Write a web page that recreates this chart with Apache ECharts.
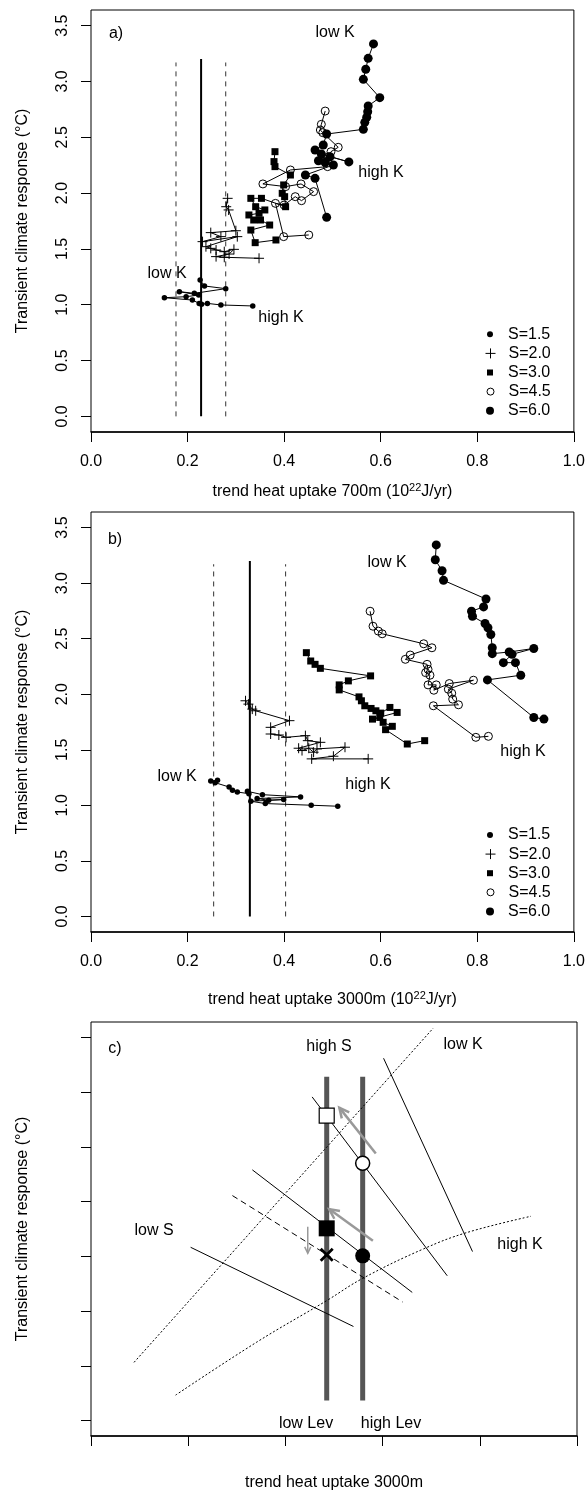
<!DOCTYPE html>
<html>
<head>
<meta charset="utf-8">
<script src="https://cdn.jsdelivr.net/npm/echarts@6/dist/echarts.min.js"></script>
<style>
  html, body { margin: 0; padding: 0; background: #fff; }
  #chart { width: 588px; height: 1492px; }
</style>
</head>
<body>
<div id="chart"></div>
<script>
// ticks
const xTicks = [0, 0.2, 0.4, 0.6, 0.8, 1.0];
const yTicks = [0, 0.5, 1.0, 1.5, 2.0, 2.5, 3.0, 3.5];
const groupNames = ['S=1.5', 'S=2.0', 'S=3.0', 'S=4.5', 'S=6.0'];

// panel a) trend heat uptake 700m vs TCR
const a15X = [0.226, 0.235, 0.279, 0.214, 0.183, 0.223, 0.197, 0.152, 0.210, 0.224, 0.229, 0.241, 0.269, 0.335];
const a15Y = [1.222, 1.168, 1.144, 1.102, 1.117, 1.087, 1.072, 1.063, 1.042, 1.012, 1.004, 1.012, 0.998, 0.989];
const a20X = [0.283, 0.280, 0.285, 0.300, 0.248, 0.269, 0.231, 0.303, 0.238, 0.248, 0.259, 0.276, 0.296, 0.286, 0.259, 0.276, 0.348];
const a20Y = [1.953, 1.878, 1.849, 1.663, 1.646, 1.610, 1.565, 1.610, 1.520, 1.505, 1.490, 1.475, 1.496, 1.454, 1.431, 1.425, 1.416];
const a30X = [0.381, 0.379, 0.381, 0.413, 0.399, 0.396, 0.401, 0.403, 0.353, 0.331, 0.341, 0.360, 0.348, 0.327, 0.337, 0.351, 0.370, 0.331, 0.340, 0.383];
const a30Y = [2.371, 2.282, 2.237, 2.162, 2.073, 1.998, 1.968, 1.878, 1.953, 1.953, 1.878, 1.849, 1.819, 1.804, 1.759, 1.759, 1.714, 1.669, 1.556, 1.580];
const a45X = [0.485, 0.477, 0.475, 0.480, 0.512, 0.497, 0.492, 0.485, 0.490, 0.413, 0.356, 0.403, 0.435, 0.461, 0.436, 0.423, 0.400, 0.382, 0.399, 0.451];
const a45Y = [2.735, 2.616, 2.565, 2.541, 2.410, 2.371, 2.326, 2.282, 2.237, 2.207, 2.082, 2.058, 2.082, 2.013, 1.932, 1.968, 1.893, 1.908, 1.610, 1.625];
const a60X = [0.585, 0.574, 0.569, 0.564, 0.598, 0.574, 0.573, 0.571, 0.567, 0.564, 0.488, 0.481, 0.464, 0.477, 0.534, 0.495, 0.471, 0.485, 0.502, 0.444, 0.464, 0.488];
const a60Y = [3.336, 3.207, 3.109, 3.019, 2.855, 2.780, 2.729, 2.679, 2.634, 2.571, 2.529, 2.431, 2.386, 2.350, 2.279, 2.326, 2.290, 2.273, 2.252, 2.162, 2.132, 1.783];
const aRefX = [0.176, 0.228, 0.279];

// panel b) trend heat uptake 3000m vs TCR
const b15X = [0.248, 0.262, 0.257, 0.286, 0.293, 0.303, 0.327, 0.324, 0.355, 0.434, 0.344, 0.368, 0.399, 0.331, 0.361, 0.456, 0.511];
const b15Y = [1.219, 1.225, 1.204, 1.165, 1.135, 1.120, 1.105, 1.126, 1.096, 1.076, 1.061, 1.046, 1.052, 1.037, 1.016, 1.001, 0.992];
const b20X = [0.320, 0.326, 0.334, 0.341, 0.411, 0.372, 0.372, 0.389, 0.404, 0.444, 0.449, 0.475, 0.430, 0.437, 0.451, 0.461, 0.468, 0.526, 0.502, 0.457, 0.574];
const b20Y = [1.941, 1.911, 1.866, 1.851, 1.762, 1.702, 1.642, 1.633, 1.612, 1.627, 1.582, 1.567, 1.514, 1.493, 1.514, 1.478, 1.508, 1.523, 1.442, 1.418, 1.418];
const b30X = [0.446, 0.455, 0.464, 0.475, 0.579, 0.533, 0.514, 0.514, 0.555, 0.560, 0.567, 0.580, 0.590, 0.600, 0.619, 0.634, 0.583, 0.598, 0.605, 0.624, 0.610, 0.655, 0.691];
const b30Y = [2.374, 2.299, 2.269, 2.233, 2.165, 2.120, 2.084, 2.039, 1.976, 1.941, 1.896, 1.872, 1.851, 1.830, 1.881, 1.836, 1.776, 1.791, 1.747, 1.711, 1.681, 1.552, 1.582];
const b45X = [0.578, 0.584, 0.595, 0.603, 0.689, 0.706, 0.661, 0.651, 0.696, 0.698, 0.693, 0.702, 0.698, 0.715, 0.710, 0.742, 0.792, 0.740, 0.747, 0.749, 0.761, 0.709, 0.797, 0.823];
const b45Y = [2.747, 2.612, 2.568, 2.544, 2.454, 2.418, 2.353, 2.314, 2.269, 2.224, 2.194, 2.171, 2.084, 2.084, 2.036, 2.096, 2.126, 2.045, 2.009, 1.956, 1.905, 1.896, 1.612, 1.621];
const b60X = [0.715, 0.713, 0.727, 0.730, 0.818, 0.813, 0.788, 0.790, 0.816, 0.822, 0.828, 0.831, 0.831, 0.866, 0.917, 0.872, 0.854, 0.879, 0.890, 0.821, 0.917, 0.938];
const b60Y = [3.344, 3.210, 3.111, 3.025, 2.857, 2.786, 2.747, 2.702, 2.636, 2.598, 2.538, 2.418, 2.365, 2.380, 2.412, 2.359, 2.284, 2.284, 2.171, 2.129, 1.791, 1.776];
const bRefX = [0.254, 0.329, 0.403];
const refTop = [3.17, 3.2, 3.17];

// panel c) schematic
const cLevX = [0.485, 0.559];
const cLevY = [0.185, 3.14];
const cOpenSquare = [0.485, 2.786];
const cOpenCircle = [0.559, 2.350];
const cFilledSquare = [0.485, 1.756];
const cFilledCircle = [0.559, 1.505];
const cCross = [0.485, 1.514];
const cSolid = [[0.602, 3.309, 0.785, 1.544], [0.455, 2.956, 0.733, 1.323], [0.332, 2.290, 0.661, 1.171], [0.205, 1.583, 0.540, 0.860]];
const cDashed = [0.291, 2.055, 0.641, 1.084];
const cLowKX = [0.0885, 0.704];
const cLowKY = [0.532, 3.583];
const cHighKX = [0.174, 0.341, 0.485, 0.559, 0.684, 0.773, 0.905];
const cHighKY = [0.233, 0.717, 1.096, 1.299, 1.568, 1.717, 1.866];
const cArrows = [[0.586, 2.440, 0.511, 2.858], [0.580, 1.642, 0.490, 1.932], [0.446, 1.771, 0.446, 1.529]];

const FONT = '"Liberation Sans", Arial, Helvetica, sans-serif';
const FS = 16;
const plusPath = 'path://M0,5L10,5M5,0L5,10';
const crossPath = 'path://M0,0L10,10M10,0L0,10';

const groupStyle = {
  'S=1.5': { symbol: 'circle', symbolSize: 5.5, itemStyle: { color: '#000' } },
  'S=2.0': { symbol: plusPath, symbolSize: 10, itemStyle: { color: '#000', borderColor: '#000', borderWidth: 1 } },
  'S=3.0': { symbol: 'rect', symbolSize: 7, itemStyle: { color: '#000' } },
  'S=4.5': { symbol: 'circle', symbolSize: 8, itemStyle: { color: 'rgba(0,0,0,0)', borderColor: '#000', borderWidth: 1 } },
  'S=6.0': { symbol: 'circle', symbolSize: 9, itemStyle: { color: '#000' } }
};

const pair = (xs, ys) => xs.map((x, i) => [x, ys[i]]);

function groupSeries(name, xs, ys, ax) {
  return Object.assign({
    type: 'line', name: name, xAxisIndex: ax, yAxisIndex: ax,
    data: pair(xs, ys),
    lineStyle: { color: '#000', width: 1 },
    emphasis: { disabled: true }, z: 3
  }, groupStyle[name]);
}

function seg(x1, y1, x2, y2, ax, style, z) {
  return {
    type: 'line', xAxisIndex: ax, yAxisIndex: ax,
    data: [[x1, y1], [x2, y2]], symbol: 'none',
    lineStyle: style, emphasis: { disabled: true }, z: z || 2
  };
}

function refLines(xs, ax) {
  return xs.map((x, i) => seg(x, 0, x, refTop[i], ax,
    i === 1 ? { color: '#000', width: 2 } : { color: '#333', width: 1, type: [5, 5] }));
}

function marker(pt, symbol, size, itemStyle) {
  return {
    type: 'scatter', xAxisIndex: 2, yAxisIndex: 2, data: [pt],
    symbol: symbol, symbolSize: size, itemStyle: Object.assign({ opacity: 1 }, itemStyle), z: 5,
    emphasis: { disabled: true }
  };
}

const grids = [
  { left: 91, top: 10, width: 486, height: 422 },
  { left: 91, top: 512, width: 486, height: 420 },
  { left: 91, top: 1022, width: 486, height: 422 }
].map(g => Object.assign(g, { show: true, borderColor: '#000', borderWidth: 1 }));

const xNames = [
  '{n|trend heat uptake 700m (10}{s|22}{n|J/yr)}',
  '{n|trend heat uptake 3000m (10}{s|22}{n|J/yr)}',
  '{n|trend heat uptake 3000m}'
];
const xNameGaps = [50, 58, 37];

const xAxes = [0, 1, 2].map(i => ({
  gridIndex: i, type: 'value', min: 0, max: 1,
  axisLine: { show: true, onZero: false, lineStyle: { color: '#000', width: 1.5 } },
  axisTick: { show: true, length: 10, customValues: xTicks, lineStyle: { color: '#000' } },
  axisLabel: {
    show: i < 2, customValues: xTicks, margin: 22,
    formatter: v => v.toFixed(1), fontSize: FS, color: '#000', fontFamily: FONT
  },
  splitLine: { show: false },
  name: xNames[i], nameLocation: 'middle', nameGap: xNameGaps[i],
  nameTextStyle: {
    fontFamily: FONT, color: '#000',
    rich: {
      n: { fontSize: FS, fontFamily: FONT, color: '#000', lineHeight: 20 },
      s: { fontSize: 11, fontFamily: FONT, color: '#000', verticalAlign: 'top', lineHeight: 20 }
    }
  }
}));

const yAxes = [0, 1, 2].map(i => ({
  gridIndex: i, type: 'value', min: -0.14, max: 3.64,
  axisLine: { show: false, onZero: false },
  axisTick: { show: true, length: 10, customValues: yTicks, lineStyle: { color: '#000' } },
  axisLabel: {
    show: i < 2, customValues: yTicks, rotate: 90, margin: 20,
    formatter: v => v.toFixed(1), fontSize: FS, color: '#000', fontFamily: FONT
  },
  splitLine: { show: false },
  name: 'Transient climate response (°C)', nameLocation: 'middle', nameGap: 60,
  nameTextStyle: { fontSize: FS, fontFamily: FONT, color: '#000' }
}));

const series = [];
// panel a
series.push(...refLines(aRefX, 0));
series.push(groupSeries('S=1.5', a15X, a15Y, 0));
series.push(groupSeries('S=2.0', a20X, a20Y, 0));
series.push(groupSeries('S=3.0', a30X, a30Y, 0));
series.push(groupSeries('S=4.5', a45X, a45Y, 0));
series.push(groupSeries('S=6.0', a60X, a60Y, 0));
// panel b
series.push(...refLines(bRefX, 1));
series.push(groupSeries('S=1.5', b15X, b15Y, 1));
series.push(groupSeries('S=2.0', b20X, b20Y, 1));
series.push(groupSeries('S=3.0', b30X, b30Y, 1));
series.push(groupSeries('S=4.5', b45X, b45Y, 1));
series.push(groupSeries('S=6.0', b60X, b60Y, 1));
// panel c
cLevX.forEach(x => series.push(seg(x, cLevY[0], x, cLevY[1], 2, { color: '#555', width: 5 }, 1)));
cSolid.forEach(s => series.push(seg(s[0], s[1], s[2], s[3], 2, { color: '#000', width: 1 }, 2)));
series.push(seg(cDashed[0], cDashed[1], cDashed[2], cDashed[3], 2, { color: '#000', width: 1, type: [6, 4] }, 2));
series.push(seg(cLowKX[0], cLowKY[0], cLowKX[1], cLowKY[1], 2, { color: '#000', width: 1, type: [2, 2] }, 2));
series.push({
  type: 'line', xAxisIndex: 2, yAxisIndex: 2, data: pair(cHighKX, cHighKY),
  symbol: 'none', smooth: 0.4, lineStyle: { color: '#000', width: 1, type: [2, 2] },
  emphasis: { disabled: true }, z: 2
});
series.push({
  type: 'custom', xAxisIndex: 2, yAxisIndex: 2, data: cArrows, z: 6,
  encode: { x: [0, 2], y: [1, 3] },
  renderItem: (params, api) => {
    const p1 = api.coord([api.value(0), api.value(1)]);
    const p2 = api.coord([api.value(2), api.value(3)]);
    const small = params.dataIndex === 2;
    const len = small ? 7 : 11;
    const w = small ? 1.5 : 2.5;
    const ang = Math.atan2(p2[1] - p1[1], p2[0] - p1[0]);
    const h1 = ang + Math.PI - 0.45, h2 = ang + Math.PI + 0.45;
    const st = { stroke: '#999', lineWidth: w, fill: null };
    return {
      type: 'group', children: [
        { type: 'polyline', shape: { points: [p1, p2] }, style: st },
        { type: 'polyline', shape: { points: [
          [p2[0] + len * Math.cos(h1), p2[1] + len * Math.sin(h1)], p2,
          [p2[0] + len * Math.cos(h2), p2[1] + len * Math.sin(h2)]] }, style: st }
      ]
    };
  }
});
series.push(marker(cOpenSquare, 'rect', 15, { color: '#fff', borderColor: '#000', borderWidth: 1.2 }));
series.push(marker(cOpenCircle, 'circle', 14, { color: '#fff', borderColor: '#000', borderWidth: 1.5 }));
series.push(marker(cFilledSquare, 'rect', 16, { color: '#000' }));
series.push(marker(cFilledCircle, 'circle', 15, { color: '#000' }));
series.push(marker(cCross, crossPath, 12, { color: '#000', borderColor: '#000', borderWidth: 2.8 }));

// legends (one per entry so each icon keeps its own size)
const legendIcons = ['circle', plusPath, 'rect', 'circle', 'circle'];
const legendSizes = [6, 10, 6, 7, 8];
const legendFill = ['#000', '#000', '#000', '#fff', '#000'];
const legendBorder = [0, 1, 0, 1, 0];
const legendTop = [334.3, 835];
const legends = [];
legendTop.forEach(t0 => {
  groupNames.forEach((name, i) => {
    const s = legendSizes[i];
    const cy = t0 + i * 19.1;
    legends.push({
      show: true, selectedMode: false, orient: 'vertical', padding: 0,
      left: 490 - s / 2, top: cy - 8, itemWidth: s, itemHeight: s,
      itemStyle: { color: legendFill[i], borderColor: '#000', borderWidth: legendBorder[i] },
      data: [{ name: name, icon: legendIcons[i] }],
      textStyle: { fontSize: FS, fontFamily: FONT, color: '#000', lineHeight: 16, padding: [0, 0, 0, 13 - s / 2] }
    });
  });
});

function txt(x, y, s) {
  return {
    type: 'text', x: x, y: y, z: 100,
    style: { text: s, align: 'center', verticalAlign: 'middle', fontSize: FS, fontFamily: FONT, fill: '#000' }
  };
}

const labels = [
  txt(116, 34, 'a)'), txt(335, 33, 'low K'), txt(381, 173, 'high K'), txt(167, 274, 'low K'), txt(281, 318, 'high K'),
  txt(115, 540, 'b)'), txt(387, 563, 'low K'), txt(368, 785, 'high K'), txt(177, 777, 'low K'), txt(523, 752, 'high K'),
  txt(115, 1049, 'c)'), txt(329, 1047, 'high S'), txt(463, 1045, 'low K'), txt(154, 1231, 'low S'),
  txt(520, 1245, 'high K'), txt(306, 1424, 'low Lev'), txt(391, 1424, 'high Lev')
];

const chart = echarts.init(document.getElementById('chart'), null, { renderer: 'canvas' });
chart.setOption({
  animation: false,
  backgroundColor: '#fff',
  textStyle: { fontFamily: FONT },
  grid: grids,
  xAxis: xAxes,
  yAxis: yAxes,
  legend: legends,
  series: series,
  graphic: labels
});
window.addEventListener('resize', () => chart.resize());
</script>
</body>
</html>
